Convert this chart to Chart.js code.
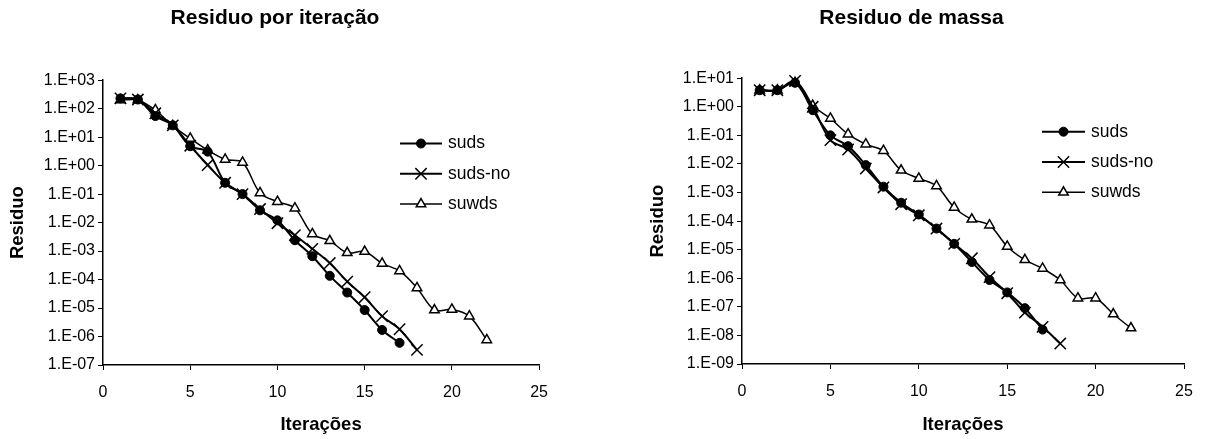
<!DOCTYPE html>
<html>
<head>
<meta charset="utf-8">
<script src="https://cdn.jsdelivr.net/npm/chart.js"></script>
<style>
  html, body { margin: 0; padding: 0; background: #fff; }
  body { width: 1206px; height: 439px; position: relative; overflow: hidden; }
  canvas { position: absolute; top: 0; }
  #chartIter { left: 0; }
  #chartMassa { left: 639px; }
</style>
</head>
<body>
<canvas id="chartIter" width="561" height="439"></canvas>
<canvas id="chartMassa" width="567" height="439"></canvas>
<script>
// ---- data ----
const seriesNames = ['suds', 'suds-no', 'suwds'];

const itersSuds   = [1, 2, 3, 4, 5, 6, 7, 8, 9, 10, 11, 12, 13, 14, 15, 16, 17];
const itersSudsNo = [1, 2, 3, 4, 5, 6, 7, 8, 9, 10, 11, 12, 13, 14, 15, 16, 17, 18];
const itersSuwds  = [1, 2, 3, 4, 5, 6, 7, 8, 9, 10, 11, 12, 13, 14, 15, 16, 17, 18, 19, 20, 21, 22];

// Residuo por iteração
const iterSuds   = [230, 210, 55, 26, 4.8, 3.1, 0.25, 0.1, 0.027, 0.012, 0.0024, 6.6e-4, 1.35e-4, 3.5e-5, 8.5e-6, 1.7e-6, 6e-7];
const iterSudsNo = [230, 210, 69, 26, 5, 1.05, 0.25, 0.1, 0.03, 0.0095, 0.0036, 0.0012, 3.8e-4, 8.5e-5, 2.4e-5, 5.2e-6, 1.8e-6, 3.4e-7];
const iterSuwds  = [200, 200, 90, 25, 9, 3.5, 1.65, 1.3, 0.11, 0.054, 0.032, 0.004, 0.0023, 8.7e-4, 9.6e-4, 3.7e-4, 2.0e-4, 5.1e-5, 8.5e-6, 8.9e-6, 5.2e-6, 7.6e-7];

// Residuo de massa
const massaSuds   = [3.8, 3.8, 6.9, 0.76, 0.10, 0.042, 0.0091, 0.0016, 4.4e-4, 1.7e-4, 5.5e-5, 1.6e-5, 3.7e-6, 8.7e-7, 3.2e-7, 9e-8, 1.6e-8];
const massaSudsNo = [3.8, 3.8, 8, 1.0, 0.068, 0.032, 0.0069, 0.0015, 3.9e-4, 1.6e-4, 5.5e-5, 1.6e-5, 5e-6, 1.1e-6, 3e-7, 6.3e-8, 2e-8, 5.2e-9];
const massaSuwds  = [3.8, 3.8, 7, 1.1, 0.39, 0.11, 0.049, 0.029, 0.006, 0.0031, 0.0017, 3.0e-4, 1.15e-4, 7.2e-5, 1.3e-5, 4.4e-6, 2.2e-6, 8.7e-7, 2.0e-7, 2.0e-7, 5.6e-8, 1.8e-8];

// axis ticks
const xTicks = [0, 5, 10, 15, 20, 25];
const iterYTicks  = [1e-7, 1e-6, 1e-5, 1e-4, 1e-3, 1e-2, 1e-1, 1, 10, 100, 1000];
const iterYLabels = ['1.E-07', '1.E-06', '1.E-05', '1.E-04', '1.E-03', '1.E-02', '1.E-01', '1.E+00', '1.E+01', '1.E+02', '1.E+03'];
const massaYTicks  = [1e-9, 1e-8, 1e-7, 1e-6, 1e-5, 1e-4, 1e-3, 1e-2, 1e-1, 1, 10];
const massaYLabels = ['1.E-09', '1.E-08', '1.E-07', '1.E-06', '1.E-05', '1.E-04', '1.E-03', '1.E-02', '1.E-01', '1.E+00', '1.E+01'];

// ---- drawing ----
const FONT = '"Liberation Sans", Arial, Helvetica, sans-serif';
Chart.defaults.font.family = FONT;
Chart.defaults.color = '#000';

const toPoints = (xs, ys) => xs.map((x, i) => ({ x: x, y: ys[i] }));

const seriesStyles = [
  { pointStyle: 'circle',   pointRadius: 4.5, pointBackgroundColor: '#000', pointBorderColor: '#000', pointBorderWidth: 1,   borderWidth: 2 },
  { pointStyle: 'crossRot', pointRadius: 8,   pointBackgroundColor: '#000', pointBorderColor: '#000', pointBorderWidth: 1.5, borderWidth: 2 },
  { pointStyle: 'triangle', pointRadius: 5.5, pointBackgroundColor: '#fff', pointBorderColor: '#000', pointBorderWidth: 1.5, borderWidth: 1.5 }
];

function makeDatasets(sets) {
  return sets.map((pts, i) => Object.assign({
    label: seriesNames[i],
    data: pts,
    borderColor: '#000',
    backgroundColor: '#000',
    tension: 0.33,
    fill: false,
    clip: false,
    pointHoverRadius: 0
  }, seriesStyles[i]));
}

// legend drawn inside the plot area
const inlineLegend = {
  id: 'inlineLegend',
  afterDraw(chart, args, opts) {
    const ctx = chart.ctx;
    ctx.save();
    chart.data.datasets.forEach((ds, i) => {
      const y = opts.y + i * opts.gap;
      ctx.strokeStyle = '#000';
      ctx.lineWidth = ds.borderWidth;
      ctx.beginPath();
      ctx.moveTo(opts.x, y);
      ctx.lineTo(opts.x + opts.len, y);
      ctx.stroke();
      ctx.fillStyle = ds.pointBackgroundColor;
      ctx.strokeStyle = ds.pointBorderColor;
      ctx.lineWidth = ds.pointBorderWidth;
      Chart.helpers.drawPoint(ctx, {
        pointStyle: ds.pointStyle, radius: ds.pointRadius, rotation: 0, borderWidth: ds.pointBorderWidth
      }, opts.x + opts.len / 2, y);
      ctx.fillStyle = '#000';
      ctx.font = opts.fontSize + 'px ' + FONT;
      ctx.textBaseline = 'middle';
      ctx.textAlign = 'left';
      ctx.fillText(ds.label, opts.textX, y);
    });
    ctx.restore();
  }
};

function makeChart(canvasId, title, datasets, yTicks, yLabels, layout) {
  return new Chart(document.getElementById(canvasId), {
    type: 'line',
    data: { datasets: datasets },
    plugins: [inlineLegend],
    options: {
      responsive: false,
      animation: false,
      devicePixelRatio: 1,
      events: [],
      layout: { padding: { left: 0, right: layout.right, top: 0, bottom: 0 } },
      plugins: {
        legend: { display: false },
        tooltip: { enabled: false },
        title: {
          display: true,
          text: title,
          color: '#000',
          font: { size: 21, weight: 'bold', family: FONT },
          padding: { top: 6, bottom: layout.titleBottom }
        },
        inlineLegend: layout.legend
      },
      scales: {
        x: {
          type: 'linear',
          min: 0,
          max: 25,
          afterBuildTicks: s => { s.ticks = xTicks.map(v => ({ value: v })); },
          afterFit: s => { s.height = layout.xHeight; },
          ticks: { font: { size: 16 }, padding: 13, maxRotation: 0, autoSkip: false, color: '#000' },
          grid: { display: true, drawOnChartArea: false, drawTicks: true, tickLength: 5, color: '#000', lineWidth: 1 },
          border: { display: true, color: '#000', width: 1.5 },
          title: {
            display: true, text: 'Iterações', color: '#000',
            font: { size: 18.5, weight: 'bold', family: FONT },
            padding: { top: 0, bottom: 3 }
          }
        },
        y: {
          type: 'logarithmic',
          min: yTicks[0],
          max: yTicks[yTicks.length - 1],
          afterBuildTicks: s => { s.ticks = yTicks.map(v => ({ value: v })); },
          afterFit: s => { s.width = 103; },
          ticks: {
            font: { size: 16 }, padding: 3, autoSkip: false, color: '#000',
            callback: (v, i) => yLabels[i]
          },
          grid: { display: true, drawOnChartArea: false, drawTicks: true, tickLength: 5, color: '#000', lineWidth: 1 },
          border: { display: true, color: '#000', width: 1.5 },
          title: {
            display: true, text: 'Residuo', color: '#000',
            font: { size: 18.5, weight: 'bold', family: FONT },
            padding: { top: layout.yTitlePad, bottom: 0 }
          }
        }
      }
    }
  });
}

makeChart('chartIter', 'Residuo por iteração',
  makeDatasets([toPoints(itersSuds, iterSuds), toPoints(itersSudsNo, iterSudsNo), toPoints(itersSuwds, iterSuwds)]),
  iterYTicks, iterYLabels,
  { right: 11, titleBottom: 49, xHeight: 74, yTitlePad: 7,
    legend: { x: 400, y: 143.5, gap: 30.3, len: 42, textX: 448, fontSize: 17.5 } });

makeChart('chartMassa', 'Residuo de massa',
  makeDatasets([toPoints(itersSuds, massaSuds), toPoints(itersSudsNo, massaSudsNo), toPoints(itersSuwds, massaSuwds)]),
  massaYTicks, massaYLabels,
  { right: 22, titleBottom: 47, xHeight: 75, yTitlePad: 8,
    legend: { x: 403, y: 131.7, gap: 30.3, len: 43, textX: 452, fontSize: 17.5 } });
</script>
</body>
</html>
